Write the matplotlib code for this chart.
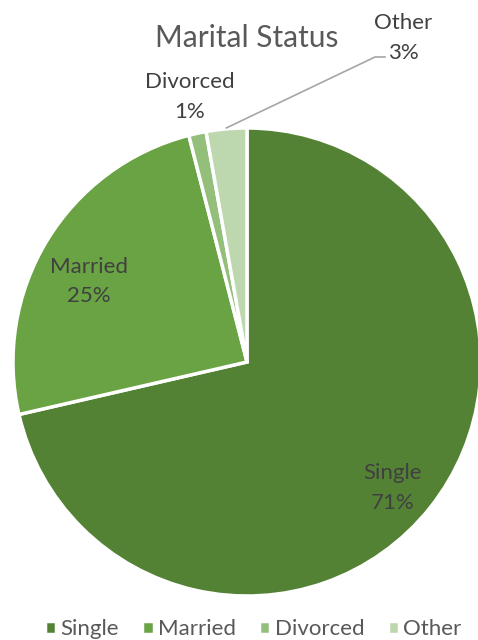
import numpy as np
import matplotlib.pyplot as plt

# Marital status shares (percent)
categories = ['Single', 'Married', 'Divorced', 'Other']
shares = [71.4, 24.6, 1.2, 2.8]
colors = ['#548235', '#6aa343', '#93bf7b', '#bdd7ae']

plt.rcParams['font.family'] = ['Lato', 'DejaVu Sans']

W, H = 478, 640
fig = plt.figure(figsize=(W / 100, H / 100), dpi=100)
ax = fig.add_axes([0, 0, 1, 1])

cx, cy, r = 247, 278, 234
wedges, _ = ax.pie(shares, colors=colors, startangle=90, counterclock=False,
                   center=(cx, cy), radius=r, frame=True,
                   wedgeprops=dict(edgecolor='white', linewidth=2.5))
ax.set_xlim(0, W)
ax.set_ylim(0, H)
ax.set_aspect('equal')
ax.axis('off')

total = sum(shares)
label_color = '#404040'
fs = 16

# label placement: (fraction of radius, angle offset in degrees)
place = {'Single': (0.824, -2.3), 'Married': (0.757, 4.3), 'Divorced': (1.16, 0)}
for w, name, v in zip(wedges, categories, shares):
    pct = f'{round(v / total * 100):.0f}%'
    mid = (w.theta1 + w.theta2) / 2
    if name in place:
        f, off = place[name]
        a = np.deg2rad(mid + off)
        ax.text(cx + f * r * np.cos(a), cy + f * r * np.sin(a), f'{name}\n{pct}',
                ha='center', va='center', fontsize=fs, color=label_color,
                linespacing=1.6)
    else:
        tx, ty = 403, 602
        ax.text(tx, ty, f'{name}\n{pct}', ha='center', va='center',
                fontsize=fs, color=label_color, linespacing=1.6)
        a = np.deg2rad(mid)
        ex, ey = cx + r * np.cos(a), cy + r * np.sin(a)
        ax.plot([ex, tx - 28, tx - 18], [ey + 1, ty - 19, ty - 19],
                color='#a6a6a6', lw=1.2)

ax.text(cx, H - 38, 'Marital Status', ha='center', va='center',
        fontsize=21.5, color='#595959')

ax.legend(wedges, categories, loc='lower center', bbox_to_anchor=(0.53, -0.03),
          ncol=4, frameon=False, fontsize=fs, labelcolor='#595959',
          handlelength=0.5, handleheight=0.5, handletextpad=0.2,
          columnspacing=1.05)

fig.savefig('out.png', dpi=100)
